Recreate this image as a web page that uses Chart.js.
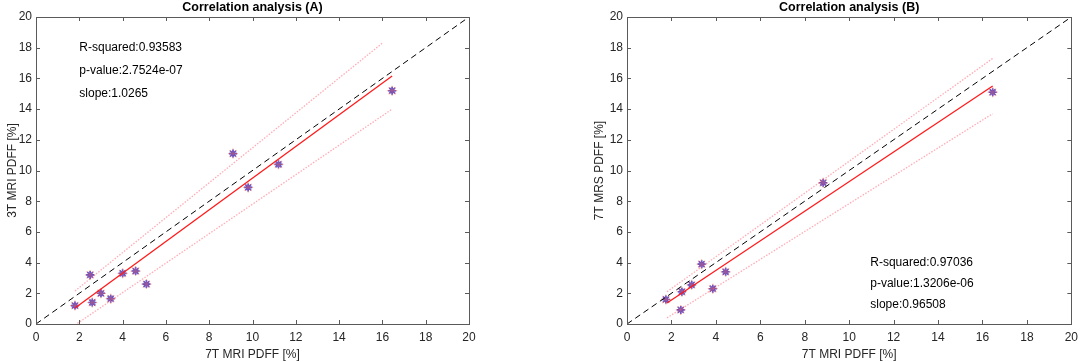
<!DOCTYPE html>
<html>
<head>
<meta charset="utf-8">
<script src="https://cdn.jsdelivr.net/npm/chart.js@4.4.1/dist/chart.umd.min.js"></script>
<style>
  body { margin: 0; background: #fff; }
  .box { position: absolute; top: 0; height: 362px; }
  #wrap-a { left: 0; width: 560px; }
  #wrap-b { left: 591px; width: 493px; }
</style>
</head>
<body>
<div class="box" id="wrap-a"><canvas id="chart-a"></canvas></div>
<div class="box" id="wrap-b"><canvas id="chart-b"></canvas></div>
<script>
// ---- data ----
// (A) 7T MRI vs 3T MRI
const mriA7T = [1.8, 2.6, 2.5, 3.0, 3.45, 4.0, 4.6, 5.1, 9.1, 9.8, 11.2, 16.45];
const mri3T = [1.2, 1.4, 3.2, 2.0, 1.65, 3.3, 3.45, 2.6, 11.1, 8.9, 10.4, 15.2];
const fitAX = [1.8, 16.45];
const fitAY = [1.04, 16.15];
const upperAX = [1.8, 16.0];
const upperAY = [2.15, 18.3];
const lowerAX = [1.8, 16.45];
const lowerAY = [-0.07, 14.0];
const statsA = ["R-squared:0.93583", "p-value:2.7524e-07", "slope:1.0265"];

// (B) 7T MRI vs 7T MRS
const mriB7T = [1.75, 2.47, 2.42, 2.91, 3.36, 3.86, 4.44, 8.83, 16.46];
const mrs7T = [1.6, 2.1, 0.92, 2.55, 3.9, 2.3, 3.4, 9.2, 15.1];
const fitBX = [1.8, 16.46];
const fitBY = [1.37, 15.5];
const upperBX = [1.8, 16.46];
const upperBY = [2.1, 17.3];
const lowerBX = [1.8, 16.46];
const lowerBY = [0.4, 13.7];
const statsB = ["R-squared:0.97036", "p-value:1.3206e-06", "slope:0.96508"];

const identity = [0, 20];
const axisMin = 0;
const axisMax = 20;
const tickStep = 2;

Chart.defaults.font.family = "'Liberation Sans', Arial, sans-serif";
Chart.defaults.font.size = 12;
Chart.defaults.color = "#262626";

const toXY = (xs, ys) => xs.map((x, i) => ({ x: x, y: ys[i] }));

// box around the plot, inward ticks on all sides, title and stats text
const boxTicks = {
  id: "boxTicks",
  afterDraw(chart, args, opts) {
    const { ctx, chartArea: a, scales } = chart;
    const x = scales.x, y = scales.y;
    ctx.save();
    ctx.strokeStyle = "#5a5a5a";
    ctx.lineWidth = 1;
    ctx.strokeRect(Math.round(a.left) + 0.5, Math.round(a.top) + 0.5,
      Math.round(a.width), Math.round(a.height));
    const len = 4;
    ctx.beginPath();
    x.ticks.forEach((t) => {
      const px = Math.round(x.getPixelForValue(t.value)) + 0.5;
      ctx.moveTo(px, a.bottom); ctx.lineTo(px, a.bottom - len);
      ctx.moveTo(px, a.top); ctx.lineTo(px, a.top + len);
    });
    y.ticks.forEach((t) => {
      const py = Math.round(y.getPixelForValue(t.value)) + 0.5;
      ctx.moveTo(a.left, py); ctx.lineTo(a.left + len, py);
      ctx.moveTo(a.right, py); ctx.lineTo(a.right - len, py);
    });
    ctx.stroke();

    // title centred over the plot box
    ctx.fillStyle = "#000";
    ctx.textBaseline = "middle";
    ctx.textAlign = "center";
    ctx.font = "bold 12.5px 'Liberation Sans', Arial, sans-serif";
    ctx.fillText(opts.title, (a.left + a.right) / 2, a.top - 9);

    ctx.textAlign = "left";
    ctx.font = "12px 'Liberation Sans', Arial, sans-serif";
    opts.lines.forEach((txt, i) => {
      ctx.fillText(txt, x.getPixelForValue(opts.at[0]),
        y.getPixelForValue(opts.at[1] - i * opts.step));
    });
    ctx.restore();
  },
};

function makeChart(id, title, yTitle, yTitlePad, padRight, xs, ys, fx, fy, ux, uy, lx, ly, stats, at, step) {
  const ctx = document.getElementById(id).getContext("2d");
  return new Chart(ctx, {
    type: "scatter",
    data: {
      datasets: [
        {
          data: toXY(identity, identity),
          showLine: true,
          borderColor: "#000",
          borderWidth: 1,
          borderDash: [6, 4],
          pointRadius: 0,
        },
        {
          data: toXY(ux, uy),
          showLine: true,
          borderColor: "rgba(255, 90, 110, 0.5)",
          borderWidth: 1.3,
          borderDash: [1.5, 1.5],
          pointRadius: 0,
        },
        {
          data: toXY(lx, ly),
          showLine: true,
          borderColor: "rgba(255, 90, 110, 0.5)",
          borderWidth: 1.3,
          borderDash: [1.5, 1.5],
          pointRadius: 0,
        },
        {
          data: toXY(fx, fy),
          showLine: true,
          borderColor: "#ff1a1a",
          borderWidth: 1.3,
          pointRadius: 0,
        },
        {
          data: toXY(xs, ys),
          pointStyle: "star",
          pointRadius: 5,
          borderColor: "rgba(255, 110, 70, 0.55)",
          borderWidth: 1.2,
          backgroundColor: "transparent",
        },
        {
          data: toXY(xs, ys),
          pointStyle: "star",
          pointRadius: 4,
          borderColor: "#1a3cff",
          borderWidth: 1.6,
          backgroundColor: "transparent",
        },
      ],
    },
    options: {
      responsive: true,
      maintainAspectRatio: false,
      animation: false,
      layout: { padding: { top: 17, right: padRight, bottom: 0, left: 0 } },
      scales: {
        x: {
          type: "linear",
          min: axisMin,
          max: axisMax,
          grid: { display: false, drawTicks: false },
          border: { display: false },
          ticks: { stepSize: tickStep, padding: 6, color: "#262626" },
          title: { display: true, text: "7T MRI PDFF [%]", padding: { top: 2, bottom: 0 }, color: "#262626" },
          afterFit: (s) => { s.height = 38; },
        },
        y: {
          type: "linear",
          min: axisMin,
          max: axisMax,
          grid: { display: false, drawTicks: false },
          border: { display: false },
          ticks: { stepSize: tickStep, padding: 4, color: "#262626" },
          title: { display: true, text: yTitle, padding: { top: yTitlePad, bottom: 0 }, color: "#262626" },
          afterFit: (s) => { s.width = 36; },
        },
      },
      plugins: {
        legend: { display: false },
        tooltip: { enabled: false },
        title: { display: false },
        boxTicks: { title: title, lines: stats, at: at, step: step },
      },
    },
    plugins: [boxTicks],
  });
}

// padding so each plot box sits where it does in the figure
const chartA = makeChart("chart-a", "Correlation analysis (A)", "3T MRI PDFF [%]", 5, 91,
  mriA7T, mri3T, fitAX, fitAY, upperAX, upperAY, lowerAX, lowerAY,
  statsA, [2.0, 18.0], 1.5);

const chartB = makeChart("chart-b", "Correlation analysis (B)", "7T MRS PDFF [%]", 1, 11,
  mriB7T, mrs7T, fitBX, fitBY, upperBX, upperBY, lowerBX, lowerBY,
  statsB, [10.95, 4.0], 1.38);
</script>
</body>
</html>
